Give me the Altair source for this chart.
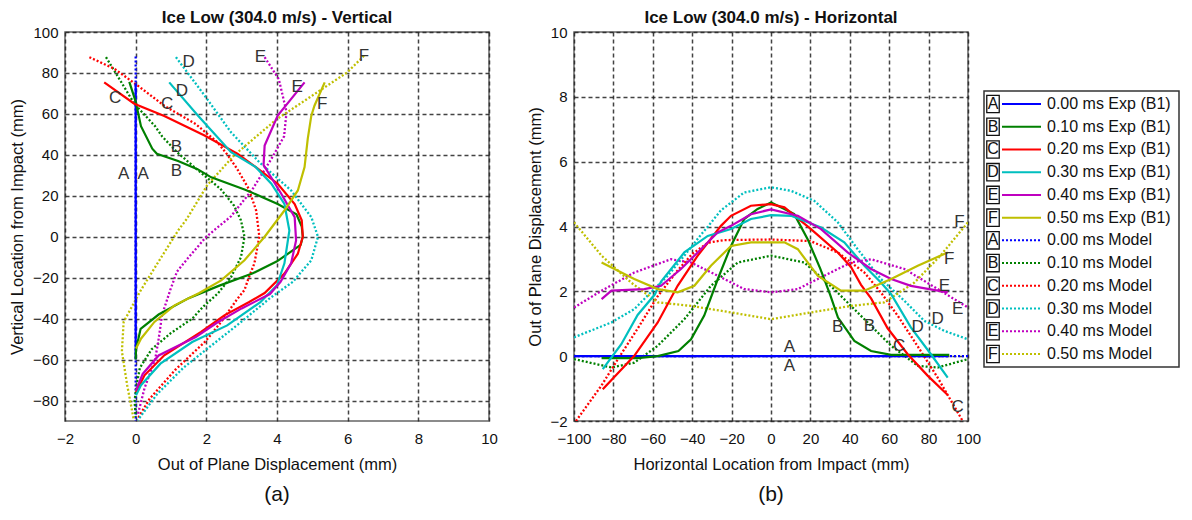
import altair as alt
import pandas as pd

FONT = "Liberation Sans"
LETTERS = ["A", "B", "C", "D", "E", "F"]
TIMES = ["0.00", "0.10", "0.20", "0.30", "0.40", "0.50"]
COLORS = ["#0000FF", "#008000", "#FF0000", "#00BFBF", "#BF00BF", "#BFBF00"]

# ---------------- Panel (a): vertical location (mm) vs displacement (mm)
V_EXP_LOC = {
    "A": [75, 40, 0, -30, -60],
    "B": [75.6, 66, 54, 43, 40.5, 37, 33, 29, 23, 16, 11, 5, 0, -4, -12, -18, -24, -30, -38, -45, -55, -60],
    "C": [75.4, 65, 59, 49.4, 40.5, 34, 25.9, 16, 8, 0, -8.3, -18, -27.5, -32, -38.4, -46.5, -57.9, -67.7, -76],
    "D": [75.4, 59.2, 41.3, 34, 25.9, 16, 3, -13, -23.7, -31.9, -43.3, -51.4, -62, -72.5, -77.4],
    "E": [75.4, 59.2, 44.5, 35, 21, 9.6, -1.8, -13, -22, -28, -35, -42, -49, -58, -67, -75],
    "F": [75.4, 64, 59, 47.8, 34, 22.6, 12.8, 0, -11.5, -21.3, -27.5, -33.5, -41.6, -49.8, -54.6],
}
V_EXP_DISP = {
    "A": [0, 0, 0, 0, 0],
    "B": [-0.18, 0, 0.15, 0.47, 0.6, 1.2, 1.75, 2.14, 3.1, 4.02, 4.55, 4.7, 4.73, 4.67, 4.0, 3.3, 2.35, 1.5, 0.65, 0.14, 0.01, 0],
    "C": [-0.89, -0.04, 0.81, 1.95, 2.89, 3.4, 4.02, 4.5, 4.7, 4.73, 4.59, 4.21, 3.65, 3.2, 2.51, 1.85, 0.81, 0.25, 0.01],
    "D": [0.95, 1.76, 2.7, 3.4, 3.84, 4.21, 4.35, 4.21, 4.0, 3.53, 2.59, 1.6, 0.7, 0.15, 0.01],
    "E": [4.78, 4.02, 3.65, 3.62, 4.12, 4.5, 4.54, 4.4, 4.1, 3.8, 3.0, 2.3, 1.7, 0.65, 0.2, 0.01],
    "F": [5.35, 5.06, 4.97, 4.87, 4.78, 4.59, 4.21, 3.65, 3.08, 2.42, 1.8, 1.1, 0.53, 0.15, 0.01],
}
V_MOD_LOC = {
    "A": [88, -90],
    "B": [87.7, 77, 65, 54, 49, 41.3, 31.5, 23.4, 15.3, 8, 0, -10, -19.7, -27.8, -34, -40, -47, -55, -64, -72, -80, -88],
    "C": [87.7, 82, 73.8, 64, 55, 46.2, 40, 33.2, 23.4, 12.8, 0, -13, -20, -26, -31, -41.6, -51, -65, -79, -88.8],
    "D": [87.7, 69, 51, 36.4, 22.6, 9.6, 0, -11.5, -22, -30, -40, -51, -64, -77, -89.6],
    "E": [87.7, 77, 61, 49, 38, 23, 10, 0, -10, -17, -26, -38, -50, -60, -74, -87],
    "F": [88.4, 80.3, 57.5, 39.7, 25, 8.8, 3, -10.7, -26, -41.6, -56, -72.5, -88.8],
}
V_MOD_DISP = {
    "A": [0, 0],
    "B": [-0.84, -0.46, -0.04, 0.55, 0.75, 1.17, 1.83, 2.4, 2.78, 2.98, 3.08, 2.98, 2.7, 2.32, 1.92, 1.6, 1.0, 0.45, 0.12, 0.03, -0.03, 0],
    "C": [-1.31, -0.6, 0.06, 0.81, 1.7, 2.31, 2.6, 2.87, 3.2, 3.41, 3.5, 3.36, 3.2, 3.08, 2.85, 2.42, 1.98, 1.12, 0.4, 0.06],
    "D": [1.14, 1.95, 2.7, 3.5, 4.4, 4.97, 5.16, 4.97, 4.45, 3.8, 3.1, 2.3, 1.35, 0.6, 0.06],
    "E": [3.65, 4.05, 4.27, 4.2, 3.84, 3.3, 2.7, 2.0, 1.5, 1.17, 0.98, 0.75, 0.65, 0.55, 0.25, 0.06],
    "F": [6.46, 5.99, 4.0, 2.78, 2.02, 1.45, 1.2, 0.7, 0.15, -0.34, -0.39, -0.24, -0.06],
}
V_LBL_LETTER = ["A", "A", "B", "B", "C", "C", "D", "D", "E", "E", "F", "F"]
V_LBL_DISP = [-0.34, 0.21, 1.15, 1.15, -0.58, 0.89, 1.5, 1.31, 3.53, 4.57, 6.46, 5.28]
V_LBL_LOC = [30.7, 30.7, 44, 31.9, 68, 64.9, 85.2, 71.4, 87.7, 73, 88.4, 65]

# ---------------- Panel (b): horizontal location (mm) vs displacement (mm)
H_EXP_LOC = {
    "A": [-100, 90],
    "B": [-86, -67.7, -57.5, -47, -40.6, -33.9, -27, -20.3, -13.6, -6.8, 0, 6.8, 11.8, 18.6, 25, 30, 34, 42.3, 50.8, 61, 90.5],
    "C": [-85.4, -69.4, -57.5, -47.4, -37.2, -25.4, -20.3, -10.2, 0, 6.8, 20.3, 33.9, 40.6, 45.7, 50.8, 59.2, 69.4, 79.5, 89.7],
    "D": [-85.4, -76, -67.7, -59, -55.8, -44, -32.1, -20.3, -10.2, 0, 10.2, 25.4, 37.2, 47.4, 55.8, 61, 71, 81.2, 89.7],
    "E": [-86, -81, -64.3, -55.8, -45.7, -37.2, -27, -20.3, -10.2, 0, 13.6, 25.4, 38.9, 50.8, 61, 71, 89.7],
    "F": [-86, -69.4, -57.5, -47.4, -38.9, -30.5, -20.3, -10.2, 6.8, 13.6, 23.7, 35.5, 47.4, 61, 74.5, 89.7],
}
H_EXP_DISP = {
    "A": [0, 0],
    "B": [-0.06, -0.06, 0, 0.16, 0.52, 1.25, 2.38, 3.4, 4.23, 4.54, 4.74, 4.54, 4.38, 3.61, 2.7, 1.9, 1.19, 0.47, 0.16, 0.04, 0.04],
    "C": [-1.02, 0.01, 1.04, 2.17, 3.1, 4.02, 4.33, 4.64, 4.69, 4.59, 3.92, 3.2, 2.75, 2.2, 1.78, 0.86, 0.06, -0.6, -1.2],
    "D": [-0.4, 0.37, 1.27, 1.9, 2.3, 3.2, 3.71, 3.92, 4.23, 4.35, 4.33, 3.97, 3.51, 2.79, 2.27, 1.91, 0.89, 0.06, -0.66],
    "E": [1.76, 2.02, 2.07, 2.17, 2.69, 3.2, 3.82, 4.02, 4.38, 4.53, 4.33, 3.92, 3.2, 2.69, 2.38, 2.17, 1.97],
    "F": [2.89, 2.38, 2.07, 1.97, 2.17, 2.79, 3.4, 3.51, 3.51, 3.3, 2.48, 2.02, 2.02, 2.38, 2.79, 3.2],
}
H_MOD_LOC = {
    "A": [-100, 100],
    "B": [-100, -81, -69.4, -57.5, -44, -30.5, -16.9, 0, 16.9, 32, 47.4, 61, 74.5, 84.6, 100],
    "C": [-99, -86, -77.8, -67.7, -57.5, -48, -40, -32, -24, 0, 20, 33.9, 47.4, 56, 64.3, 74.5, 84.6, 97.3],
    "D": [-100, -81, -69.4, -61, -52.4, -44, -35.5, -32, -25.4, -13.6, 0, 10.2, 22, 33.9, 44, 55.8, 67.7, 77.8, 88, 100],
    "E": [-100, -86, -69.4, -50.8, -40.6, -27, -13.6, 0, 13.6, 27, 40.6, 50.8, 67.7, 86, 100],
    "F": [-100, -86, -71, -57.5, -40.6, -20.3, 0, 20.3, 40.6, 57.5, 72.8, 86, 100],
}
H_MOD_DISP = {
    "A": [0, 0],
    "B": [-0.09, -0.35, -0.2, 0.32, 1.14, 2.17, 2.89, 3.1, 2.89, 2.07, 1.14, 0.32, -0.3, -0.35, -0.09],
    "C": [-2.0, -0.9, -0.1, 0.85, 1.85, 2.6, 3.15, 3.5, 3.58, 3.6, 3.55, 3.2, 2.58, 1.95, 1.25, 0.3, -0.66, -2.0],
    "D": [0.58, 1.04, 1.45, 1.97, 2.48, 3.1, 3.75, 4.0, 4.5, 5.05, 5.21, 5.1, 4.79, 4.13, 3.3, 2.38, 1.71, 1.09, 0.78, 0.52],
    "E": [1.5, 2.02, 2.58, 2.99, 2.89, 2.48, 2.07, 1.97, 2.07, 2.48, 2.89, 2.99, 2.69, 2.02, 1.5],
    "F": [4.13, 3.1, 2.27, 1.66, 1.55, 1.35, 1.14, 1.35, 1.55, 1.66, 2.27, 3.1, 4.13],
}
H_LBL_LETTER = ["A", "A", "B", "B", "C", "C", "D", "D", "E", "E", "F", "F"]
H_LBL_LOC = [9.3, 9.3, 33.9, 49.9, 65.1, 94.8, 84.6, 74.5, 88, 94.8, 95.6, 90.5]
H_LBL_DISP = [0.27, -0.3, 0.89, 0.94, 0.32, -1.58, 1.14, 0.89, 2.17, 1.45, 4.13, 3.0]

V_X_TICKS = [-2, 0, 2, 4, 6, 8, 10]
V_Y_TICKS = [-80, -60, -40, -20, 0, 20, 40, 60, 80, 100]
H_X_TICKS = [-100, -80, -60, -40, -20, 0, 20, 40, 60, 80, 100]
H_Y_TICKS = [-2, 0, 2, 4, 6, 8, 10]


def frame(kind, locs, disps):
    rows = []
    for letter in LETTERS:
        for i, (l, d) in enumerate(zip(locs[letter], disps[letter])):
            rows.append({"letter": letter, "kind": kind, "loc": l, "disp": d, "idx": i})
    return pd.DataFrame(rows)


color_enc = alt.Color("letter:N", scale=alt.Scale(domain=LETTERS, range=COLORS), legend=None)

AX = dict(grid=True, gridColor="#222222", gridDash=[4, 3], gridWidth=1.5, gridOpacity=0.85,
          domain=False, ticks=False, labelFont=FONT, labelFontSize=15, labelColor="#111111",
          labelOverlap=False, labelFlush=False, titleFont=FONT, titleFontSize=16.5,
          titleFontWeight="normal", titleColor="#111111")

W_A, W_B, H = 424, 394, 389


def panel(df_exp, df_mod, xfield, yfield, xdom, ydom, xticks, yticks, xtitle, ytitle,
          tag, lbl_df, w, ytitlepad):
    x = alt.X(f"{xfield}:Q", scale=alt.Scale(domain=xdom, nice=False, zero=False),
              axis=alt.Axis(values=xticks, title=xtitle, labelPadding=10, titlePadding=10, **AX))
    y = alt.Y(f"{yfield}:Q", scale=alt.Scale(domain=ydom, nice=False, zero=False),
              axis=alt.Axis(values=yticks, title=ytitle, labelPadding=7, titlePadding=ytitlepad, **AX))
    mod = alt.Chart(df_mod).mark_line(strokeWidth=2.3, strokeDash=[2, 2], clip=True).encode(
        x=x, y=y, color=color_enc, order="idx:Q")
    exp = alt.Chart(df_exp).mark_line(strokeWidth=2.2, clip=True).encode(
        x=x, y=y, color=color_enc, order="idx:Q")
    lbl = alt.Chart(lbl_df).mark_text(font=FONT, fontSize=17, color="#333333").encode(
        x=x, y=y, text="letter:N")
    tagc = alt.Chart(pd.DataFrame({"t": [tag]})).mark_text(font=FONT, fontSize=21, color="#111111").encode(
        text="t:N", x=alt.value(w / 2), y=alt.value(H + 74))
    return alt.layer(mod, exp, lbl, tagc)


def titled(ch, title, w):
    return ch.properties(
        width=w, height=H,
        title=alt.Title(title, font=FONT, fontSize=17, fontWeight="bold", offset=-2, color="#111111"))


va_exp = frame("Exp", V_EXP_LOC, V_EXP_DISP)
va_mod = frame("Model", V_MOD_LOC, V_MOD_DISP)
hb_exp = frame("Exp", H_EXP_LOC, H_EXP_DISP)
hb_mod = frame("Model", H_MOD_LOC, H_MOD_DISP)
va_lbl = pd.DataFrame({"letter": V_LBL_LETTER, "disp": V_LBL_DISP, "loc": V_LBL_LOC})
hb_lbl = pd.DataFrame({"letter": H_LBL_LETTER, "disp": H_LBL_DISP, "loc": H_LBL_LOC})

panel_a = titled(panel(va_exp, va_mod, "disp", "loc", [-2, 10], [-90, 100], V_X_TICKS, V_Y_TICKS,
                       "Out of Plane Displacement (mm)", "Vertical Location from Impact (mm)",
                       "(a)", va_lbl, W_A, 7),
                 "Ice Low (304.0 m/s) - Vertical", W_A)
panel_b_core = panel(hb_exp, hb_mod, "loc", "disp", [-100, 100], [-2, 10], H_X_TICKS, H_Y_TICKS,
                     "Horizontal Location from Impact (mm)", "Out of Plane Displacement (mm)",
                     "(b)", hb_lbl, W_B, 6)

# ---------------- Legend (drawn to the right of panel (b))
leg_rows = []
for k, kind in enumerate(["Exp", "Model"]):
    for i, letter in enumerate(LETTERS):
        name = f"{TIMES[i]} ms Exp (B1)" if kind == "Exp" else f"{TIMES[i]} ms Model"
        leg_rows.append({"row": k * 6 + i, "letter": letter, "kind": kind, "label": name})
leg_df = pd.DataFrame(leg_rows)

LX = W_B + 16  # legend box left edge, relative to panel (b) plot area
ly = alt.Y("row:O", axis=None, scale=alt.Scale(type="point", range=[72, 322], padding=0))
leg_base = alt.Chart(leg_df)
leg_box = alt.Chart(pd.DataFrame({"b": [1]})).mark_rect(
    fill="white", stroke="#333333", strokeWidth=1.5).encode(
    x=alt.value(LX), x2=alt.value(LX + 195), y=alt.value(59), y2=alt.value(335))
leg_sq = leg_base.mark_point(shape="M -0.72 -1 L 0.72 -1 L 0.72 1 L -0.72 1 Z", size=300,
                             filled=False, color="#111111", strokeWidth=1.3, opacity=1).encode(
    x=alt.value(LX + 9), y=ly)
leg_let = leg_base.mark_text(font=FONT, fontSize=16, color="#111111").encode(
    x=alt.value(LX + 9), y=ly, text="letter:N")
leg_line = leg_base.mark_rule(strokeWidth=2).encode(
    x=alt.value(LX + 18), x2=alt.value(LX + 57), y=ly, color=color_enc,
    strokeDash=alt.StrokeDash("kind:N", scale=alt.Scale(domain=["Exp", "Model"], range=[[1, 0], [2, 2]]),
                              legend=None))
leg_txt = leg_base.mark_text(font=FONT, fontSize=16, align="left", color="#111111").encode(
    x=alt.value(LX + 63), y=ly, text="label:N")
legend = alt.layer(leg_box, leg_sq, leg_let, leg_line, leg_txt)

panel_b = titled(alt.layer(panel_b_core, legend).resolve_scale(y="independent"),
                 "Ice Low (304.0 m/s) - Horizontal", W_B)

chart = alt.hconcat(panel_a, panel_b, spacing=85, bounds="flush").properties(
    padding=0, background="white"
).configure_view(stroke="#666666", strokeWidth=1.5).configure_axis(labelOverlap=False, labelFlush=False)

chart.save("out.html", embed_options={"renderer": "svg", "actions": False})
